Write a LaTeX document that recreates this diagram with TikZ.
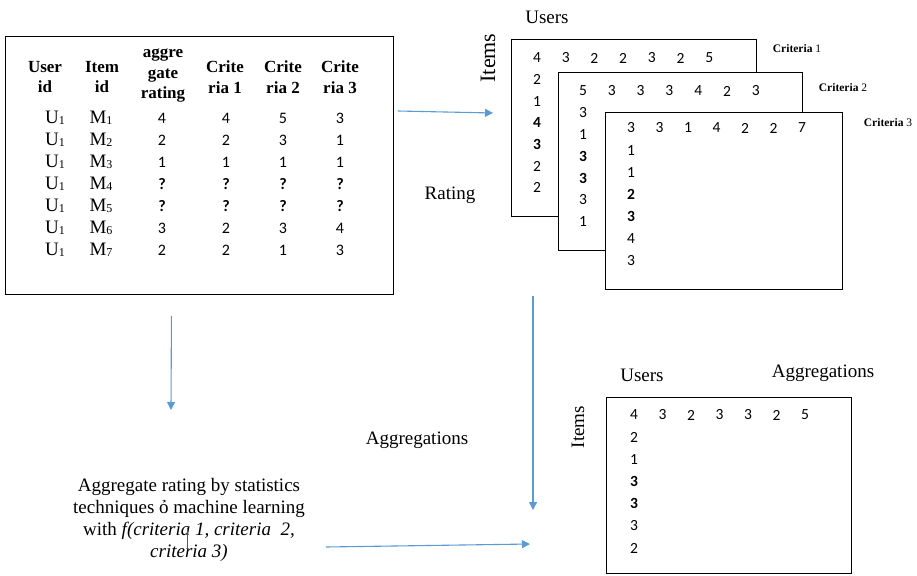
\documentclass[tikz,border=0pt]{standalone}
\usepackage{fontspec}
\setmainfont{Liberation Serif}
\newfontfamily\calibri{Carlito}
\usetikzlibrary{arrows.meta,positioning}
\definecolor{flowblue}{HTML}{5B9BD5}
\newcommand{\idx}[1]{\raisebox{-1pt}{\fontsize{12}{12}\selectfont #1}}

\begin{document}
\begin{tikzpicture}[
    x=1pt, y=-1pt,
    frame/.style={draw, line width=0.9pt, fill=white, anchor=north west, inner sep=0pt},
    hdr/.style={font=\fontsize{17}{20.5}\selectfont\bfseries, align=center, inner sep=0pt},
    cell/.style={font=\fontsize{19}{21}\selectfont, inner sep=0pt},
    num/.style={font=\calibri\fontsize{16}{18}\selectfont, inner sep=0pt},
    mnum/.style={font=\calibri\fontsize{15.5}{17}\selectfont, inner sep=0pt},
    lbl/.style={font=\fontsize{19}{22}\selectfont, inner sep=0pt},
    critlbl/.style={font=\fontsize{11.5}{13}\selectfont, inner sep=0pt},
    flow/.style={-{Triangle[width=8pt,length=8pt]}, draw=flowblue, line width=1.1pt},
    >=Latex
]
  \useasboundingbox (0,0) rectangle (917,575);

  % input table
  \node[frame, minimum width=388pt, minimum height=258pt] (table) at (5,36) {};
  \node[hdr] (huser) at (45,77) {User\\id};
  \node[hdr] (hitem) at (102,77) {Item\\id};
  \node[hdr] (hagg) at (163,76) {aggre\\gate\\rating};
  \node[hdr] (hcrit1) at (225,77) {Crite\\ria 1};
  \node[hdr] (hcrit2) at (283,77) {Crite\\ria 2};
  \node[hdr] (hcrit3) at (340,77) {Crite\\ria 3};
  \foreach \m/\a/\p/\q/\r [count=\i] in {1/4/4/5/3, 2/2/2/3/1, 3/1/1/1/1,
      4/\textbf{?}/\textbf{?}/\textbf{?}/\textbf{?}, 5/\textbf{?}/\textbf{?}/\textbf{?}/\textbf{?},
      6/3/2/3/4, 7/2/2/1/3} {
    \node[cell] (user\i) at (55,96+22*\i) {U\idx{1}};
    \node[cell] (item\i) at (101,96+22*\i) {M\idx{\m}};
    \node[num] (agg\i) at (162,96+22*\i) {\a};
    \node[num] (ca\i) at (226,96+22*\i) {\p};
    \node[num] (cb\i) at (283,96+22*\i) {\q};
    \node[num] (cc\i) at (340,96+22*\i) {\r};
  }

  % criteria matrices
  \node[lbl] (users) at (547,17) {Users};
  \node[lbl, font=\fontsize{22}{24}\selectfont, rotate=90] (items) at (488,58) {Items};
  \node[frame, minimum width=245pt, minimum height=177pt] (crit1) at (511,39) {};
  \node[critlbl] (lcrit1) at (797,49) {\textbf{Criteria} 1};
  \foreach \v [count=\i from 0] in {4,3,2,2,3,2,5}
    \node[mnum] (ra\i) at (537+28.7*\i,58) {\v};
  \foreach \v [count=\i] in {2,1,\textbf{4},\textbf{3},2,2}
    \node[mnum] (ka\i) at (537,58+21.6*\i) {\v};

  \node[frame, minimum width=244pt, minimum height=178pt] (crit2) at (558,72) {};
  \node[critlbl] (lcrit2) at (843,88) {\textbf{Criteria} 2};
  \foreach \v [count=\i from 0] in {5,3,3,3,4,2,3}
    \node[mnum] (rb\i) at (583+28.8*\i,91) {\v};
  \foreach \v [count=\i] in {3,1,\textbf{3},\textbf{3},3,1}
    \node[mnum] (kb\i) at (583,91+21.8*\i) {\v};

  \node[frame, minimum width=237pt, minimum height=177pt] (crit3) at (605,112) {};
  \node[critlbl] (lcrit3) at (888,123) {\textbf{Criteria} 3};
  \foreach \v [count=\i from 0] in {3,3,1,4,2,2,7}
    \node[mnum] (rc\i) at (631+28.5*\i,128) {\v};
  \foreach \v [count=\i] in {1,1,\textbf{2},\textbf{3},4,3}
    \node[mnum] (kc\i) at (631,128+22.1*\i) {\v};

  \node[lbl] (rating) at (450,195) {Rating};

  % aggregated matrix
  \node[lbl] (ausers) at (642,375) {Users};
  \node[lbl] (aggtitle) at (823,373) {Aggregations};
  \node[lbl, rotate=90] (aitems) at (578,427) {Items};
  \node[frame, minimum width=245pt, minimum height=176pt] (aggm) at (606,397) {};
  \foreach \v [count=\i from 0] in {4,3,2,3,3,2,5}
    \node[mnum] (rd\i) at (634+28.5*\i,415) {\v};
  \foreach \v [count=\i] in {2,1,\textbf{3},\textbf{3},3,2}
    \node[mnum] (kd\i) at (634,415+22.2*\i) {\v};

  \node[lbl] (aggmid) at (417,440) {Aggregations};
  \node[lbl, align=center] (method) at (189,520)
    {Aggregate rating by statistics\\techniques ỏ machine learning\\with \textit{f(criteria 1, criteria~ 2,}\\\textit{criteria 3)}};
  \draw[gray!70!black, line width=0.8pt] (187,528) -- (187,549);

  % connectors
  \coordinate (tomat) at (493,113);
  \coordinate (tomethod) at (171,410);
  \coordinate (toaggdown) at (533,510);
  \coordinate (toaggright) at (530,544);
  \draw[flow] ([xshift=4pt, yshift=-75pt]table.north east) -- (tomat);
  \draw[flow] ([xshift=-28pt, yshift=-21pt]table.south) -- (tomethod);
  \draw[flow] ([xshift=-72pt, yshift=-6pt]crit3.south west) -- (toaggdown);
  \draw[flow] ([xshift=21pt, yshift=-27pt]method.east) -- (toaggright);
\end{tikzpicture}
\end{document}
